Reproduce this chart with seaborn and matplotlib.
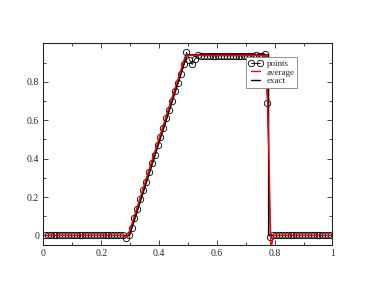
import numpy as np
import pandas as pd
import matplotlib
matplotlib.use("Agg")
import matplotlib.pyplot as plt
import matplotlib.ticker as ticker
import seaborn as sns

# numerical solution at cell centres
points_y = [
    0, 0, 0, 0, 0, 0, 0, 0, 0, 0,
    0, 0, 0, 0, 0, 0, 0, 0, 0, 0,
    0, 0, 0, 0, 0, 0, 0, 0, -0.012, 0.005,
    0.04, 0.09, 0.14, 0.19, 0.235, 0.28, 0.33, 0.375, 0.42, 0.47,
    0.515, 0.56, 0.61, 0.655, 0.70, 0.75, 0.795, 0.84, 0.89, 0.955,
    0.915, 0.89, 0.92, 0.94, 0.935, 0.935, 0.935, 0.935, 0.935, 0.935,
    0.935, 0.935, 0.935, 0.935, 0.935, 0.935, 0.935, 0.935, 0.935, 0.935,
    0.935, 0.935, 0.933, 0.937, 0.932, 0.936, 0.945, 0.69, -0.01, 0.0,
    0, 0, 0, 0, 0, 0, 0, 0, 0, 0,
    0, 0, 0, 0, 0, 0, 0, 0, 0, 0,
]
points_x = np.linspace(0.005, 0.995, len(points_y))

# cell average
average_x = [0.0, 0.275, 0.285, 0.293, 0.49, 0.5, 0.772, 0.779, 0.787, 0.796, 1.0]
average_y = [0.0, 0.0, -0.012, 0.0, 0.93, 0.937, 0.937, 0.5, -0.07, 0.0, 0.0]

# exact solution
exact_x = [0.0, 0.298, 0.497, 0.779, 0.779, 1.0]
exact_y = [0.0, 0.0, 0.94, 0.94, 0.0, 0.0]

xticks = [0, 0.2, 0.4, 0.6, 0.8, 1.0]
yticks = [0, 0.2, 0.4, 0.6, 0.8]

sns.set_style("ticks")
plt.rcParams['font.family'] = ['Liberation Serif', 'DejaVu Serif']

fig = plt.figure(figsize=(3.74, 2.89), dpi=100)
ax = fig.add_axes([0.116, 0.152, 0.773, 0.698])

pts = pd.DataFrame({"x": points_x, "y": points_y})
sns.lineplot(data=pts, x="x", y="y", ax=ax, sort=False, estimator=None,
             color="black", lw=0.6, marker="o", markersize=4.6,
             markerfacecolor="none", markeredgecolor="black",
             markeredgewidth=0.6, label="points")
sns.lineplot(x=exact_x, y=exact_y, ax=ax, sort=False, estimator=None,
             color="black", lw=1.0, label="exact")
sns.lineplot(x=average_x, y=average_y, ax=ax, sort=False, estimator=None,
             color="red", lw=1.0, label="average")

ax.set_xlim(0, 1)
ax.set_ylim(-0.05, 1.0)
ax.set_xticks(xticks)
ax.set_yticks(yticks)
ax.set_xticks([0.1, 0.3, 0.5, 0.7, 0.9], minor=True)
ax.set_yticks([0.1, 0.3, 0.5, 0.7, 0.9], minor=True)
ax.xaxis.set_major_formatter(ticker.FormatStrFormatter('%g'))
ax.yaxis.set_major_formatter(ticker.FormatStrFormatter('%g'))
ax.tick_params(which="both", direction="in", top=True, right=True,
               labelsize=7, width=0.6, pad=3)
ax.tick_params(which="major", length=3.5)
ax.tick_params(which="minor", length=2)
for s in ax.spines.values():
    s.set_linewidth(0.8)
ax.set_xlabel("")
ax.set_ylabel("")

handles, labels = ax.get_legend_handles_labels()
order = [labels.index(n) for n in ["points", "average", "exact"]]
leg = ax.legend([handles[i] for i in order], [labels[i] for i in order],
                loc="upper right", bbox_to_anchor=(0.877, 0.931),
                fontsize=6.5, numpoints=2, handlelength=1.6, handletextpad=0.4,
                borderpad=0.25, labelspacing=0.05, fancybox=False,
                framealpha=1, edgecolor="gray", borderaxespad=0)
leg.get_frame().set_linewidth(0.6)

fig.savefig("out.png", dpi=100)
